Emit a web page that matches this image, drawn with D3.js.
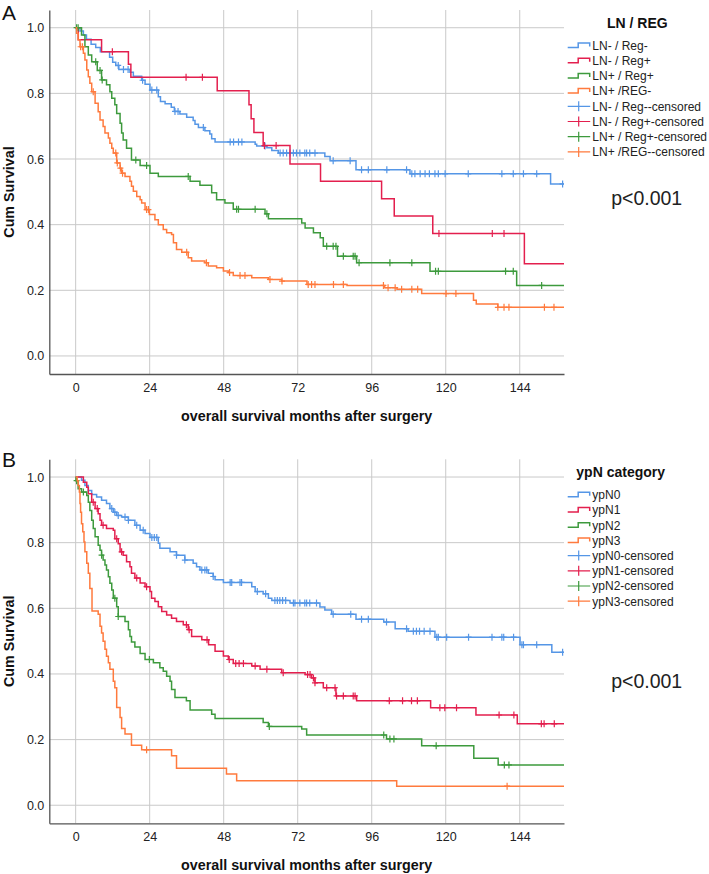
<!DOCTYPE html>
<html>
<head>
<meta charset="utf-8">
<script src="https://cdnjs.cloudflare.com/ajax/libs/d3/7.8.5/d3.min.js"></script>
<style>
  body { margin: 0; background: #fff; }
  svg { display: block; font-family: "Liberation Sans", Arial, sans-serif; }
  .grid line { stroke: #c9c9c9; stroke-width: 1; }
  .axis path { stroke: #555; stroke-width: 1.3; }
  .axis text { font-size: 12.5px; fill: #222; font-family: "Liberation Sans", Arial, sans-serif; }
  .axis-title { font-size: 14.3px; font-weight: bold; fill: #111; }
  .curve { fill: none; stroke-width: 1.5; }
  .censor { fill: none; stroke-width: 1.2; }
  .legend-title { font-size: 14px; font-weight: bold; fill: #111; }
  .legend-text { font-size: 12px; fill: #222; }
  .pval { font-size: 19.5px; fill: #222; }
  .letter { font-size: 21px; fill: #111; }
</style>
</head>
<body>
<div id="chart"></div>
<script>

//
// data: [month, cumulative survival after the drop]
//
var monthTicks = [0, 24, 48, 72, 96, 120, 144];
var survTicks = [0, 0.2, 0.4, 0.6, 0.8, 1.0];
var followUp = 160;

var groupsA = ["LN- / Reg-", "LN- / Reg+", "LN+ / Reg+", "LN+ /REG-"];
var groupsB = ["ypN0", "ypN1", "ypN2", "ypN3"];
var colors = ["#5596e6", "#e31f4e", "#3d9a3d", "#ff7a3d"];

// panel A
var stepsLnNegRegNeg = [[1.4,0.99],[2.5,0.978],[3.5,0.965],[5,0.95],[6.5,0.94],[8,0.927],[11,0.91],[12,0.895],[13,0.885],[14,0.873],
  [17.6,0.864],[18.7,0.852],[21.4,0.84],[22.5,0.828],[24.1,0.81],[26.8,0.79],[27.5,0.775],[29,0.768],[31,0.758],[32,0.745],
  [33.8,0.737],[36,0.727],[38.1,0.717],[38.7,0.706],[39.8,0.696],[41.9,0.686],[43.5,0.676],[44.1,0.662],[45.2,0.652],[58.2,0.645],
  [58.7,0.64],[62,0.634],[63.6,0.626],[65.7,0.618],[80.8,0.608],[82.5,0.595],[90.9,0.567],[108.4,0.555],[154,0.524]];
var censLnNegRegNeg = [13.8,15.5,17.0,21.7,24.7,26.3,32.2,33.2,41.4,50.1,51.2,52.8,53.9,61.4,66.3,67.3,68.4,69.5,70.6,71.6,72.7,
  74.3,74.9,75.9,77.6,83.5,89.0,92.7,94.9,100.9,107.3,109.0,110.0,111.7,113.3,114.7,116.5,117.6,119.8,127.3,138.2,141.9,145.2,149.5,157.9];

var stepsLnNegRegPos = [[0.85,0.963],[8.4,0.927],[17.1,0.889],[17.9,0.849],[45.9,0.808],[56.2,0.765],[56.9,0.723],[57.8,0.681],
  [60.8,0.641],[69.5,0.585],[79.4,0.532],[99.2,0.479],[103.3,0.426],[115.8,0.373],[145.5,0.281]];
var censLnNegRegPos = [11.9,35.8,41.1,61.2,65.0,117.8,135.1,138.9];

var stepsLnPosRegPos = [[1.9,0.978],[3.0,0.942],[4.1,0.917],[5.2,0.896],[7,0.87],[8.4,0.841],[10,0.826],[11.1,0.805],[11.7,0.785],
  [12.7,0.765],[13.3,0.739],[14.4,0.709],[14.9,0.679],[15.4,0.658],[16.5,0.633],[18.1,0.597],[20.9,0.58],[24.1,0.557],[26.8,0.547],
  [37.1,0.532],[40.3,0.52],[44.1,0.497],[45.7,0.476],[48.4,0.466],[51.1,0.447],[61.4,0.433],[62.5,0.418],[73.3,0.405],[74.4,0.39],
  [77.1,0.375],[79.3,0.36],[80.3,0.334],[84.9,0.304],[91.1,0.284],[114.9,0.258],[143.0,0.215]];
var censLnPosRegPos = [0.3,0.8,6.5,7.9,8.6,19.5,23.0,36.5,52.2,52.8,58.2,62.0,81.4,83.5,84.4,86.8,90.0,90.6,91.9,101.9,109.0,116.7,117.6,139.4,141.9,151.1];

var stepsLnPosRegNeg = [[0.3,0.983],[0.8,0.963],[1.4,0.942],[2.5,0.922],[3.0,0.902],[3.6,0.871],[4.1,0.851],[4.6,0.831],[5.2,0.805],
  [6.3,0.77],[7.3,0.744],[7.9,0.719],[8.9,0.699],[9.5,0.679],[10.6,0.664],[11.1,0.648],[11.7,0.633],[12.2,0.618],[13.3,0.588],
  [14.4,0.572],[14.9,0.557],[16.0,0.547],[17.6,0.532],[18.1,0.517],[18.7,0.502],[19.8,0.486],[20.9,0.476],[21.4,0.466],[22.5,0.446],
  [23.9,0.431],[25.7,0.415],[26.8,0.4],[28.4,0.385],[29.5,0.375],[31.1,0.37],[31.7,0.345],[32.7,0.324],[34.4,0.316],[36.5,0.299],
  [37.6,0.289],[41.9,0.284],[43.0,0.274],[45.7,0.269],[47.9,0.259],[49.5,0.254],[51.1,0.245],[57.1,0.238],[62.5,0.233],[66.8,0.228],
  [75.0,0.218],[88,0.215],[100.2,0.208],[104.2,0.203],[112.2,0.19],[129.0,0.17],[129.9,0.158],[136.9,0.148]];
var censLnPosRegNeg = [1.6,2.2,5.7,13.0,13.5,14.5,15.2,23.0,23.6,36.0,42.4,49.9,53.3,54.9,63.0,66.9,75.4,76.5,77.6,83.6,86.8,
  99.8,101.3,103.6,105.7,109.0,110.9,120.1,123.3,136.9,138.9,140.5,152.0,155.1];

// panel B
var stepsYpN0 = [[1.9,0.99],[3.0,0.974],[4.1,0.959],[5.2,0.947],[6.8,0.939],[8.4,0.929],[10.0,0.919],[11.1,0.904],[12.2,0.893],
  [13.3,0.883],[14.9,0.878],[17.1,0.868],[19.2,0.853],[20.9,0.838],[22.5,0.828],[24.1,0.816],[26.8,0.798],[27.3,0.783],[30.6,0.772],
  [32.7,0.762],[35.4,0.747],[38.1,0.737],[39.2,0.727],[40.3,0.717],[43.0,0.707],[44.6,0.697],[45.2,0.687],[47.9,0.679],[57.1,0.666],
  [58.2,0.651],[60.8,0.644],[62.5,0.631],[63.6,0.624],[69.5,0.616],[79.2,0.604],[80.8,0.595],[83.0,0.582],[90.9,0.567],[99.9,0.558],
  [103.6,0.538],[107.8,0.53],[116.5,0.512],[144.1,0.489],[154.4,0.466]];
var censYpN0 = [11.7,12.7,13.8,16.0,17.1,19.8,21.9,24.7,25.5,26.3,32.7,35.4,40.9,41.9,42.5,44.6,50.1,50.6,53.3,53.8,58.9,61.6,
  64.6,65.4,66.2,67.1,68.1,70.6,71.1,72.7,74.3,74.9,75.9,78.1,83.5,89.2,92.7,94.9,100.8,107.3,109.5,110.5,111.5,113.0,114.9,
  117.1,117.6,120.3,127.4,135.0,138.2,138.8,142.0,144.7,145.2,149.5,157.9];

var stepsYpN1 = [[2.5,0.984],[3.6,0.969],[4.1,0.949],[5.2,0.923],[6.3,0.904],[7.3,0.888],[7.9,0.868],[8.4,0.853],[10.0,0.843],
  [12.2,0.838],[12.7,0.812],[13.8,0.797],[14.4,0.772],[15.4,0.762],[16.5,0.742],[17.6,0.727],[18.1,0.707],[19.2,0.692],[20.9,0.677],
  [22.5,0.666],[24.1,0.651],[24.6,0.631],[25.7,0.621],[26.8,0.605],[27.9,0.59],[29.5,0.58],[31.1,0.57],[32.7,0.56],[34.9,0.55],
  [36.5,0.535],[37.6,0.514],[40.9,0.504],[43.1,0.489],[45.2,0.469],[47.9,0.455],[49.5,0.444],[51.1,0.432],[57.1,0.424],[59.8,0.414],
  [66.8,0.404],[74.4,0.398],[76.5,0.388],[77.6,0.373],[80.3,0.358],[84.4,0.333],[91.1,0.318],[115.1,0.297],[129.8,0.275],[143.2,0.248]];
var censYpN1 = [5.7,7.0,8.9,13.3,14.9,19.8,23.0,35.9,36.8,42.6,49.8,51.9,53.0,54.4,58.2,62.0,67.3,75.2,76.0,77.1,77.6,81.4,84.1,
  84.6,86.8,90.0,90.6,101.7,106.0,108.9,110.8,118.1,119.7,123.5,137.3,142.1,151.0,151.9,155.2];

var stepsYpN2 = [[0.1,0.989],[0.8,0.964],[1.9,0.954],[3.6,0.944],[4.1,0.923],[4.6,0.898],[5.2,0.868],[5.7,0.843],[6.3,0.818],
  [7.3,0.792],[7.9,0.777],[8.4,0.762],[8.9,0.747],[9.5,0.732],[10.0,0.717],[10.6,0.696],[11.1,0.676],[11.7,0.656],[12.2,0.631],
  [13.3,0.605],[13.8,0.575],[16.0,0.56],[17.1,0.535],[17.6,0.514],[18.1,0.497],[19.2,0.482],[20.9,0.462],[22.5,0.444],[25.2,0.434],
  [27.3,0.419],[28.4,0.408],[29.5,0.393],[30.6,0.378],[31.1,0.353],[32.2,0.328],[35.9,0.318],[37.1,0.29],[44.1,0.277],[45.2,0.264],
  [60.8,0.252],[62.5,0.24],[73.3,0.232],[74.9,0.214],[100.8,0.202],[112.2,0.181],[129.1,0.143],[137.0,0.123]];
var censYpN2 = [0.3,2.5,8.4,12.7,13.8,23.9,62.8,99.9,101.9,103.2,116.9,139.0,140.5];

var stepsYpN3 = [[0.5,0.989],[0.8,0.974],[1.2,0.954],[1.4,0.919],[1.6,0.893],[1.9,0.858],[2.3,0.833],[2.7,0.802],[3.0,0.772],
  [3.6,0.737],[4.1,0.707],[4.6,0.66],[5.3,0.592],[7.3,0.582],[7.9,0.545],[8.4,0.525],[8.9,0.5],[9.5,0.475],[10.0,0.454],[10.6,0.434],
  [11.1,0.414],[12.2,0.378],[12.7,0.358],[13.3,0.298],[14.4,0.267],[14.9,0.234],[16.0,0.217],[18.1,0.183],[21.4,0.169],[31.1,0.151],
  [32.7,0.113],[48.9,0.095],[52.2,0.075],[104.1,0.058]];
var censYpN3 = [23.0,139.9];

var pValueA = "p<0.001";
var pValueB = "p<0.001";


//
// setup / layout
//
var width = 709, height = 874;
var plotLeft = 49.3, plotRight = 564;
var monthDomain = [-8.55, 158.35];
var survDomain = [-0.055, 1.054];

var svg = d3.select("#chart")
    .append("svg")
    .attr("width", width)
    .attr("height", height);

var panels = [
  { letter: "A", legendTitle: "LN / REG", groups: groupsA,
    steps: [stepsLnNegRegNeg, stepsLnNegRegPos, stepsLnPosRegPos, stepsLnPosRegNeg],
    censors: [censLnNegRegNeg, censLnNegRegPos, censLnPosRegPos, censLnPosRegNeg],
    pValue: pValueA, top: 10, bottom: 374, letterY: 20, pY: 205 },
  { letter: "B", legendTitle: "ypN category", groups: groupsB,
    steps: [stepsYpN0, stepsYpN1, stepsYpN2, stepsYpN3],
    censors: [censYpN0, censYpN1, censYpN2, censYpN3],
    pValue: pValueB, top: 459.3, bottom: 823.3, letterY: 467, pY: 688 }
];

panels.forEach(drawPanel);


//
// survival value of a step curve at month t
//
function survAt(steps, t){
  var s = 1;
  steps.forEach(function(d){ if(d[0] <= t) s = d[1]; });
  return s;
}


//
// draw one Kaplan-Meier panel
//
function drawPanel(p, i){
  var g = svg.append("g");

  var x = d3.scaleLinear().domain(monthDomain).range([plotLeft, plotRight]);
  var y = d3.scaleLinear().domain(survDomain).range([p.bottom, p.top]);

  // grid
  var grid = g.append("g").attr("class", "grid");
  grid.selectAll("line.v")
    .data(monthTicks)
    .enter().append("line")
    .attr("class", "v")
    .attr("x1", function(d){ return x(d) })
    .attr("x2", function(d){ return x(d) })
    .attr("y1", p.top)
    .attr("y2", p.bottom);
  grid.selectAll("line.h")
    .data(survTicks)
    .enter().append("line")
    .attr("class", "h")
    .attr("x1", plotLeft)
    .attr("x2", plotRight)
    .attr("y1", function(d){ return y(d) })
    .attr("y2", function(d){ return y(d) });

  // axes
  g.append("g")
    .attr("class", "axis")
    .attr("transform", "translate(0," + p.bottom + ")")
    .call(d3.axisBottom(x).tickValues(monthTicks).tickSize(0).tickPadding(9));
  g.append("g")
    .attr("class", "axis")
    .attr("transform", "translate(" + plotLeft + ",0)")
    .call(d3.axisLeft(y).tickValues(survTicks).tickSize(0).tickPadding(5).tickFormat(d3.format(".1f")));

  g.append("text")
    .attr("class", "axis-title")
    .attr("x", (plotLeft + plotRight) / 2)
    .attr("y", p.bottom + 47)
    .attr("text-anchor", "middle")
    .text("overall survival months after surgery");
  g.append("text")
    .attr("class", "axis-title")
    .attr("transform", "translate(14," + ((p.top + p.bottom) / 2) + ") rotate(-90)")
    .attr("text-anchor", "middle")
    .text("Cum Survival");

  g.append("text")
    .attr("class", "letter")
    .attr("x", 2)
    .attr("y", p.letterY)
    .text(p.letter);

  // curves
  g.append("clipPath")
    .attr("id", "clip" + i)
    .append("rect")
    .attr("x", plotLeft)
    .attr("y", p.top)
    .attr("width", plotRight - plotLeft)
    .attr("height", p.bottom - p.top);
  var plot = g.append("g").attr("clip-path", "url(#clip" + i + ")");

  var line = d3.line()
      .curve(d3.curveStepAfter)
      .x(function(d){ return x(d[0]) })
      .y(function(d){ return y(d[1]) });

  p.groups.forEach(function(name, k){
    var steps = p.steps[k];
    var pts = [[0, 1]].concat(steps);
    pts.push([followUp, steps[steps.length - 1][1]]);
    plot.append("path")
      .attr("class", "curve")
      .attr("stroke", colors[k])
      .attr("d", line(pts));
    plot.selectAll(null)
      .data(p.censors[k])
      .enter().append("path")
      .attr("class", "censor")
      .attr("stroke", colors[k])
      .attr("d", function(t){
        var cx = x(t), cy = y(survAt(steps, t));
        return "M" + (cx - 3) + "," + cy + "h6M" + cx + "," + (cy - 3.5) + "v7";
      });
  });

  // legend
  var lg = g.append("g");
  var rowY0 = p.top + 35.5, rowH = 15.2, symX = 567.7, textX = 592.3;
  var items = p.groups.map(function(d){ return { name: d, censored: false } })
      .concat(p.groups.map(function(d){ return { name: d + "-censored", censored: true } }));
  var maxRight = 0;
  items.forEach(function(it, k){
    var cy = rowY0 + k * rowH, c = colors[k % 4];
    if(it.censored){
      lg.append("path").attr("class", "censor").attr("stroke", c)
        .attr("d", "M" + symX + "," + cy + "h22.5M" + (symX + 11) + "," + (cy - 5) + "v10");
    } else {
      lg.append("path").attr("class", "curve").attr("stroke", c).attr("stroke-width", 1.2)
        .attr("d", "M" + symX + "," + (cy + 2) + "h10.5v-4.5h11.5v3.5");
    }
    var t = lg.append("text")
      .attr("class", "legend-text")
      .attr("x", textX)
      .attr("y", cy)
      .attr("dy", "0.36em")
      .text(it.name);
    maxRight = Math.max(maxRight, textX + t.node().getComputedTextLength());
  });
  lg.append("text")
    .attr("class", "legend-title")
    .attr("x", (symX + maxRight) / 2)
    .attr("y", p.top + 18)
    .attr("text-anchor", "middle")
    .text(p.legendTitle);

  g.append("text")
    .attr("class", "pval")
    .attr("x", 646.7)
    .attr("y", p.pY)
    .attr("text-anchor", "middle")
    .text(p.pValue);
}
</script>
</body>
</html>
